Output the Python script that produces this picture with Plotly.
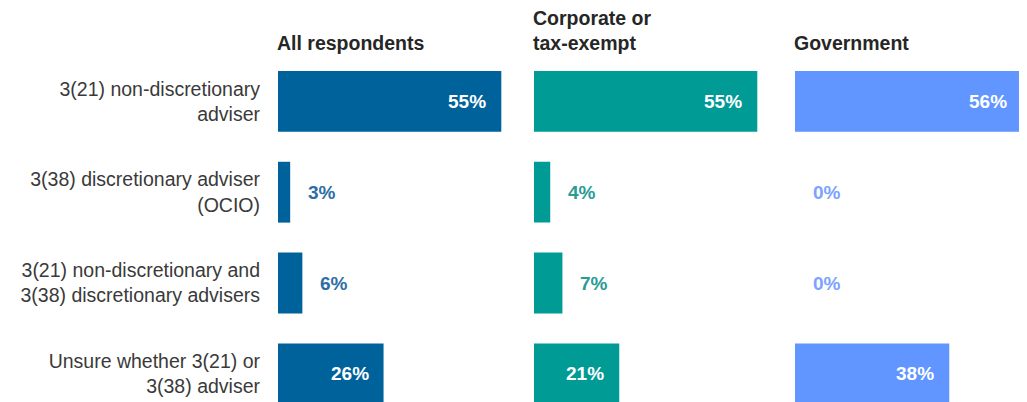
import plotly.graph_objects as go

# 数据
categories = [
    "3(21) non-discretionary<br>adviser",
    "3(38) discretionary adviser<br>(OCIO)",
    "3(21) non-discretionary and<br>3(38) discretionary advisers",
    "Unsure whether 3(21) or<br>3(38) adviser",
]
groups = ["All respondents", "Corporate or<br>tax-exempt", "Government"]
all_respondents = [55, 3, 6, 26]
corporate = [55, 4, 7, 21]
government = [56, 0, 0, 38]

bar_colors = ["#00629B", "#009B95", "#6195FF"]
label_colors = ["#2C6EA5", "#2A9C96", "#7BA3FF"]

# 页面 body 默认有 8px 外边距
OFF = 8
W, H = 1027 - OFF, 402 - OFF
PX_PER_PCT = 4.06
TOP = 56 - OFF
PITCH = 90.8

panel_left = [278 - OFF, 534 - OFF, 795 - OFF]
panel_right = [522 - OFF, 778 - OFF, 1026 - OFF]

fig = go.Figure()

series = [all_respondents, corporate, government]
ypos = list(range(len(categories)))

for i, (vals, g) in enumerate(zip(series, groups)):
    xa = "x" if i == 0 else f"x{i + 1}"
    fig.add_trace(go.Bar(
        x=vals, y=ypos, orientation="h",
        xaxis=xa, yaxis="y",
        marker=dict(color=bar_colors[i], line=dict(width=0)),
        width=0.67, hoverinfo="skip", showlegend=False,
    ))
    # 数值标签
    for v, y in zip(vals, ypos):
        inside = v >= 15
        fig.add_annotation(
            x=v, y=y, xref=xa, yref="y",
            text=f"<b>{v}%</b>", showarrow=False,
            xanchor="right" if inside else "left",
            xshift=-13 if inside else 16,
            font=dict(size=19, color="white" if inside else label_colors[i]),
        )
    # 列标题
    fig.add_annotation(
        x=panel_left[i] / W - 3 / W, y=1, xref="paper", yref="paper",
        text=f"<b>{g}</b>", showarrow=False,
        xanchor="left", yanchor="bottom", align="left",
        font=dict(size=19.5, color="#262626"),
    )

layout_axes = {}
for i in range(3):
    name = "xaxis" if i == 0 else f"xaxis{i + 1}"
    rng = (panel_right[i] - panel_left[i]) / PX_PER_PCT
    layout_axes[name] = dict(
        domain=[panel_left[i] / W, panel_right[i] / W],
        range=[0, rng], visible=False, fixedrange=True,
        anchor="y",
    )

plot_h = H - TOP
y_bottom = -0.5 + plot_h / PITCH

fig.update_layout(
    width=W, height=H,
    margin=dict(l=0, r=0, t=TOP, b=0),
    paper_bgcolor="white", plot_bgcolor="white",
    font=dict(family="Liberation Sans, Arial, sans-serif", size=19.5, color="#3A3A3A"),
    yaxis=dict(
        range=[y_bottom, -0.5],
        tickmode="array", tickvals=ypos, ticktext=categories,
        showgrid=False, zeroline=False, showline=False,
        ticks="", ticklabelstandoff=17,
        tickfont=dict(size=19.5, color="#3A3A3A"),
        fixedrange=True, anchor="x",
    ),
    bargap=0.33,
    **layout_axes,
)

fig.write_html("out.html")
